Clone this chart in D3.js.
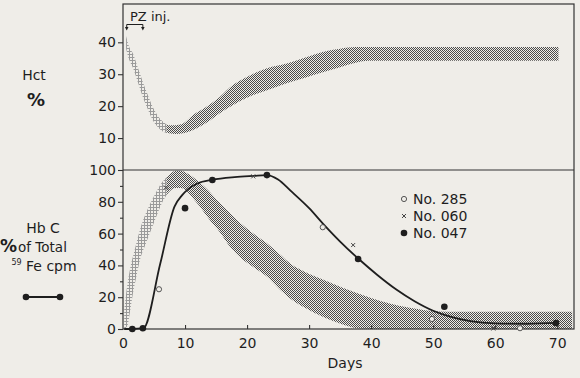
<!DOCTYPE html>
<html lang="en">
<head>
<meta charset="UTF-8">
<title>Hct and Hb C</title>
<script src="https://d3js.org/d3.v7.min.js"></script>
<style>
  html, body { margin: 0; padding: 0; background: #efede8; }
  svg { display: block; }
  text { font-family: "DejaVu Sans", sans-serif; fill: #1e1e1e; }
</style>
</head>
<body>
<svg id="chart" width="580" height="378"></svg>
<script>
// ---- data ----
const xTicks = [0, 10, 20, 30, 40, 50, 60, 70];
const hctTicks = [10, 20, 30, 40];
const hbTicks = [0, 20, 40, 60, 80, 100];
const hbMinorTicks = [10, 30, 50, 70, 90];
const injectionDays = [0.6, 3.2];

// Hct normal band (upper / lower edges), [day, %]
const hctUpper = [[0.5, 42], [1.0, 38.5], [1.6, 36.5], [2.4, 32], [3.2, 27.6], [4.0, 23.5], [4.8, 19.7],
  [5.6, 17], [6.5, 15], [7.4, 14], [8.1, 14], [9.0, 14.2], [9.7, 14.6], [11.3, 17.2], [13.4, 19.7],
  [15.6, 22.9], [17.7, 26.6], [19.8, 29], [23.2, 31.9], [26.4, 33.4], [29.5, 35.3], [32.2, 37],
  [35, 38], [37.5, 38.5], [70.2, 38.5]];
const hctLower = [[0.5, 38], [1.0, 34.5], [1.6, 32], [2.4, 27.5], [3.2, 22.9], [4.0, 19], [4.8, 15.6],
  [5.6, 13.5], [6.5, 12], [7.4, 11.5], [8.6, 11.3], [9.7, 11.5], [11.3, 12.5], [13.4, 14.7],
  [15.6, 17.8], [17.7, 20.3], [19.8, 22.5], [23.2, 25], [26.4, 27.2], [29.5, 29], [32.2, 30.6],
  [35, 32.2], [37.5, 33.6], [39.6, 34.2], [70.2, 34.2]];

// Hb C normal band, [day, % of total]
const hbUpper = [[0.2, 12], [0.6, 25], [1.1, 37], [1.9, 50], [2.7, 62], [3.5, 71], [4.4, 79], [5.2, 85],
  [6, 90.6], [6.8, 94.5], [7.6, 97.5], [8.5, 99.5], [9.3, 99.5], [10.3, 98], [11.3, 95.5], [12.4, 92],
  [13.8, 87], [15.2, 81], [17, 74], [18.9, 66.6], [21, 60], [23.2, 54], [25, 48], [27, 41], [29.5, 35.5],
  [32.3, 31], [35, 26.5], [37.7, 22.6], [40, 19.5], [43, 16], [46, 13.5], [48.4, 12], [51, 11],
  [54, 10.8], [60, 10.8], [72.4, 10.8]];
const hbLower = [[0.2, 0], [0.7, 2], [1.1, 10], [1.5, 20], [2.1, 32], [2.7, 43], [3.7, 54], [4.7, 64],
  [5.6, 73], [6.5, 81], [7.5, 86.5], [8.4, 88.7], [9.3, 88.7], [10.2, 87], [11.3, 82], [12.4, 77],
  [13.5, 71], [14.5, 66], [15.2, 63], [17, 53], [18.9, 45], [21, 39], [23.2, 33], [25, 26], [27, 19],
  [29.5, 13], [32.3, 7.5], [35, 3.5], [37.7, 0.5], [40, 0], [72.4, 0]];

// fitted curve through No. 047
const fitCurve = [[0.2, 0], [1.5, 0], [3.3, 0.5], [6, 41], [8.3, 77], [9.5, 84], [10.5, 88], [12, 91.5],
  [14.4, 93.8], [18, 95.5], [21, 96.3], [23.2, 96.8], [25, 94], [27, 87], [30, 76], [32.3, 66], [35, 55],
  [38, 44], [41, 34], [44, 25], [47, 17.5], [50, 11.5], [53, 7.5], [56, 5], [60, 3.6], [65, 3.3], [70, 3.8]];

const no285 = [[5.8, 25], [32.2, 64], [49.8, 6.3], [64, 0.5]];
const no060 = [[6.9, 89], [21, 96], [37.1, 52.8], [59.7, 0.3]];
const no047 = [[1.5, 0], [3.2, 0.5], [10, 76], [14.4, 93.7], [23.2, 96.8], [37.9, 44], [51.8, 14], [69.8, 3.8]];

const legendItems = ["No. 285", "No. 060", "No. 047"];
const splitDay = 7; // early part drawn with the lighter stipple

// ---- drawing ----
const svg = d3.select("#chart");
const ink = "#1e1e1e";

svg.append("rect").attr("width", 580).attr("height", 378).attr("fill", "#efede8");

const x = d3.scaleLinear().domain([0, 72.7]).range([123, 574]);
const yTop = d3.scaleLinear().domain([0, 52]).range([170, 4]);
const yBot = d3.scaleLinear().domain([0, 100]).range([329, 170]);

const defs = svg.append("defs");
const dense = defs.append("pattern").attr("id", "dense").attr("patternUnits", "userSpaceOnUse")
  .attr("width", 2).attr("height", 2);
dense.append("rect").attr("x", 0).attr("y", 0).attr("width", 1).attr("height", 1).attr("fill", "#4a4a4a");
dense.append("rect").attr("x", 1).attr("y", 1).attr("width", 1).attr("height", 1).attr("fill", "#4a4a4a");

const sparse = defs.append("pattern").attr("id", "sparse").attr("patternUnits", "userSpaceOnUse")
  .attr("width", 3).attr("height", 3);
sparse.append("rect").attr("x", 0).attr("y", 0).attr("width", 3).attr("height", 1).attr("fill", "#9a9a9a");
sparse.append("rect").attr("x", 0).attr("y", 0).attr("width", 1).attr("height", 3).attr("fill", "#9a9a9a");

defs.append("clipPath").attr("id", "clipEarly").append("rect")
  .attr("x", 0).attr("y", 0).attr("width", x(splitDay)).attr("height", 378);
defs.append("clipPath").attr("id", "clipLate").append("rect")
  .attr("x", x(splitDay)).attr("y", 0).attr("width", 580 - x(splitDay)).attr("height", 378);

function bandPath(upper, lower, y) {
  const edge = d3.line().x(d => x(d[0])).y(d => y(d[1])).curve(d3.curveMonotoneX);
  const top = edge(upper);
  const bottom = edge(lower.slice().reverse());
  return top + "L" + bottom.slice(1) + "Z";
}

function drawBand(upper, lower, y) {
  const d = bandPath(upper, lower, y);
  svg.append("path").attr("d", d).attr("fill", "url(#sparse)").attr("clip-path", "url(#clipEarly)");
  svg.append("path").attr("d", d).attr("fill", "url(#dense)").attr("clip-path", "url(#clipLate)");
}

drawBand(hctUpper, hctLower, yTop);
drawBand(hbUpper, hbLower, yBot);

// frame
const frame = svg.append("g").attr("stroke", "#333").attr("stroke-width", 1.2).attr("fill", "none");
frame.append("rect").attr("x", x(0)).attr("y", yTop.range()[1])
  .attr("width", x.range()[1] - x(0)).attr("height", yBot(0) - yTop.range()[1]);
frame.append("line").attr("x1", x(0)).attr("x2", x.range()[1]).attr("y1", yTop(0)).attr("y2", yTop(0));

// axes
const tickFont = "14px";
const gTop = svg.append("g").attr("transform", `translate(${x(0)},0)`)
  .call(d3.axisLeft(yTop).tickValues(hctTicks).tickSize(5).tickPadding(2));
const gBot = svg.append("g").attr("transform", `translate(${x(0)},0)`)
  .call(d3.axisLeft(yBot).tickValues(hbTicks).tickSize(5).tickPadding(2));
const gMinor = svg.append("g").attr("transform", `translate(${x(0)},0)`)
  .call(d3.axisLeft(yBot).tickValues(hbMinorTicks).tickSize(3).tickFormat(""));
const gX = svg.append("g").attr("transform", `translate(0,${yBot(0)})`)
  .call(d3.axisBottom(x).tickValues(xTicks).tickSizeInner(-4).tickSizeOuter(0).tickPadding(9));

[gTop, gBot, gMinor, gX].forEach(g => {
  g.select(".domain").remove();
  g.selectAll("line").attr("stroke", "#333").attr("stroke-width", 1.1);
  g.selectAll("text").style("font-family", "'DejaVu Sans', sans-serif").style("font-size", tickFont)
    .attr("fill", ink);
});
gX.selectAll(".tick").filter(d => d === 0).select("line").remove();

// fitted line
svg.append("path").datum(fitCurve)
  .attr("d", d3.line().x(d => x(d[0])).y(d => yBot(d[1])).curve(d3.curveMonotoneX))
  .attr("fill", "none").attr("stroke", ink).attr("stroke-width", 1.8);

// markers
function openCircle(g, cx, cy) {
  g.append("circle").attr("cx", cx).attr("cy", cy).attr("r", 2.6)
    .attr("fill", "#efede8").attr("stroke", "#444").attr("stroke-width", 0.9);
}
function cross(g, cx, cy) {
  const s = 2;
  g.append("path").attr("d", `M${cx - s},${cy - s}L${cx + s},${cy + s}M${cx - s},${cy + s}L${cx + s},${cy - s}`)
    .attr("stroke", "#444").attr("stroke-width", 1);
}
function dot(g, cx, cy) {
  g.append("circle").attr("cx", cx).attr("cy", cy).attr("r", 3.3).attr("fill", ink);
}
const marks = svg.append("g");
no285.forEach(d => openCircle(marks, x(d[0]), yBot(d[1])));
no060.forEach(d => cross(marks, x(d[0]), yBot(d[1])));
no047.forEach(d => dot(marks, x(d[0]), yBot(d[1])));

// legend
const legendFns = [openCircle, cross, dot];
const lg = svg.append("g").attr("transform", "translate(404,199)");
legendItems.forEach((t, i) => {
  legendFns[i](lg, 0, i * 17);
  lg.append("text").attr("x", 9).attr("y", i * 17 + 5).style("font-size", "14px").text(t);
});

// PZ injection bracket
const pz = svg.append("g").attr("stroke", ink).attr("stroke-width", 1).attr("fill", ink);
pz.append("line").attr("x1", x(injectionDays[0])).attr("x2", x(injectionDays[1])).attr("y1", 24.5).attr("y2", 24.5);
injectionDays.forEach(d => {
  pz.append("line").attr("x1", x(d)).attr("x2", x(d)).attr("y1", 24.5).attr("y2", 28);
  pz.append("path").attr("d", `M${x(d) - 1.8},27L${x(d) + 1.8},27L${x(d)},30.5Z`).attr("stroke", "none");
});
svg.append("text").attr("x", 130).attr("y", 21).style("font-size", "13px").text("PZ inj.");

// axis title
svg.append("text").attr("x", 345).attr("y", 368).attr("text-anchor", "middle").style("font-size", "14px").text("Days");

// left labels
svg.append("text").attr("x", 34).attr("y", 80).attr("text-anchor", "middle").style("font-size", "14px").text("Hct");
svg.append("text").attr("x", 36).attr("y", 106).attr("text-anchor", "middle").style("font-size", "18px")
  .style("font-weight", "bold").text("%");
svg.append("text").attr("x", 43).attr("y", 233).attr("text-anchor", "middle").style("font-size", "14px").text("Hb C");
const t2 = svg.append("text").attr("x", 0).attr("y", 252).style("font-size", "13.5px");
t2.append("tspan").style("font-size", "17px").style("font-weight", "bold").text("%");
t2.append("tspan").attr("dx", 1).text("of Total");
const t3 = svg.append("text").attr("x", 44).attr("y", 271).attr("text-anchor", "middle").style("font-size", "14px");
t3.append("tspan").style("font-size", "8px").attr("dy", -6).text("59");
t3.append("tspan").attr("dy", 6).text(" Fe cpm");

const key = svg.append("g");
key.append("line").attr("x1", 26).attr("x2", 60).attr("y1", 297).attr("y2", 297).attr("stroke", ink).attr("stroke-width", 1.8);
dot(key, 26, 297);
dot(key, 60, 297);
</script>
</body>
</html>
